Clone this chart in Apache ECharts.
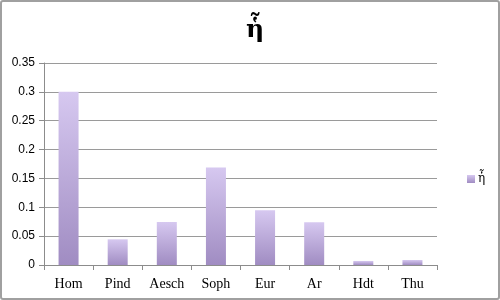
<!DOCTYPE html>
<html><head><meta charset="utf-8">
<script src="https://cdn.jsdelivr.net/npm/echarts@6/dist/echarts.min.js"></script>
<style>html,body{margin:0;padding:0;background:#fff}
#frame{position:absolute;left:0;top:0;width:500px;height:300px;box-sizing:border-box;border:2px solid #a0a0a0;border-radius:3px;}
#c{position:absolute;left:0;top:0;width:500px;height:300px}</style>
</head><body>
<div id="c"></div><div id="frame"></div>
<script>
var titleText = 'ἧ';
var categories = ['Hom','Pind','Aesch','Soph','Eur','Ar','Hdt','Thu'];
var values = [0.3, 0.0445, 0.0745, 0.169, 0.095, 0.074, 0.007, 0.0087];
var seriesName = 'ἧ';
var yTicks = [0, 0.05, 0.1, 0.15, 0.2, 0.25, 0.3, 0.35];

var chart = echarts.init(document.getElementById('c'), null, {renderer:'canvas'});
chart.setOption({
  animation:false,
  backgroundColor:'#fff',
  title:{text:titleText,left:250,top:13,textAlign:'center',
    textStyle:{fontFamily:'DejaVu Serif',fontSize:25,fontWeight:'bold',color:'#000'}},
  legend:{data:[seriesName],orient:'vertical',left:462,top:168,itemWidth:8,itemHeight:8,itemGap:4,
    textStyle:{fontFamily:'DejaVu Serif',fontSize:12,color:'#000',padding:[0,0,0,-2]},
    icon:'rect'},
  grid:{left:44,right:63,top:63,bottom:35,containLabel:false},
  xAxis:{type:'category',data:categories,
    axisLine:{lineStyle:{color:'#8c8c8c',width:1}},
    axisTick:{show:true,alignWithLabel:false,length:5,lineStyle:{color:'#8c8c8c'}},
    axisLabel:{fontFamily:'Liberation Serif',fontSize:14,color:'#000',margin:12}},
  yAxis:{type:'value',min:0,max:0.35,interval:0.05,
    axisLine:{show:true,lineStyle:{color:'#8c8c8c'}},
    axisTick:{show:true,length:5,lineStyle:{color:'#8c8c8c'}},
    splitLine:{lineStyle:{color:'#9a9a9a',width:1}},
    axisLabel:{fontFamily:'Liberation Sans',fontSize:12,color:'#000',margin:9,
      formatter:function(v){var s=yTicks.filter(function(t){return Math.abs(t-v)<1e-9;});return s.length?String(+v.toFixed(2)):'';}}},
  series:[{name:seriesName,type:'bar',data:values,barWidth:20,
    itemStyle:{color:new echarts.graphic.LinearGradient(0,0,0,1,[{offset:0,color:'#d6c8f0'},{offset:1,color:'#a08cc2'}])}}]
});
</script>
</body></html>
